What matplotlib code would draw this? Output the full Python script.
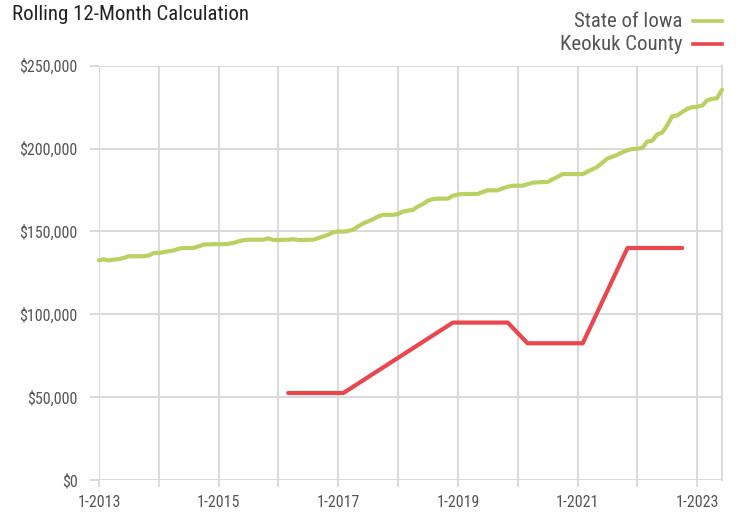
"""
Rolling 12-month median sale price: State of Iowa vs Keokuk County.
Saves out.png
"""

import numpy as np
import pandas as pd
import matplotlib
matplotlib.use("Agg")
import matplotlib.pyplot as plt
import matplotlib.dates as mdates
from matplotlib import font_manager
from matplotlib.lines import Line2D
from matplotlib.ticker import FuncFormatter

# State of Iowa, monthly from 1-2013 to 6-2023 (thousands of dollars)
IOWA_START = "2013-01-01"
IOWA_K = [
    132.5, 133.2, 132.5, 133.0, 133.3, 134.0, 135.0, 135.0, 135.0, 135.0, 135.5, 137.0,
    137.0, 137.5, 138.0, 138.5, 139.5, 140.0, 140.0, 140.0, 141.0, 142.0, 142.2, 142.3,
    142.3, 142.3, 142.5, 143.0, 144.0, 144.7, 145.0, 145.0, 145.0, 145.0, 145.8, 144.8,
    144.8, 145.0, 145.0, 145.3, 144.8, 144.8, 145.0, 145.0, 146.0, 147.0, 148.0, 149.5,
    150.0, 149.8, 150.3, 151.0, 153.0, 154.8, 156.0, 157.4, 159.0, 160.0, 160.0, 160.0,
    160.5, 162.0, 162.5, 163.0, 165.0, 166.5, 168.5, 169.5, 169.8, 169.8, 169.8, 171.5,
    172.3, 172.6, 172.6, 172.6, 172.6, 173.8, 174.8, 174.8, 174.8, 176.0, 177.0, 177.6,
    177.6, 177.6, 178.5, 179.4, 179.6, 179.8, 179.8, 181.5, 183.0, 184.6, 184.6, 184.6,
    184.6, 184.6, 186.0, 187.5, 189.0, 191.5, 194.0, 195.0, 196.3, 197.8, 199.0, 199.8,
    199.9, 200.5, 204.2, 204.7, 208.5, 209.6, 214.0, 219.5, 220.0, 222.0, 224.0, 225.0,
    225.2, 226.0, 229.0, 230.0, 230.3, 235.5,
]

# Keokuk County (thousands of dollars)
KEOKUK_DATES = ["2016-03-01", "2017-02-01", "2018-12-01", "2019-11-01",
                "2020-03-01", "2021-02-01", "2021-11-01", "2022-10-01"]
KEOKUK_K = [52.5, 52.5, 95.0, 95.0, 82.5, 82.5, 140.0, 140.0]

X_END = "2023-06-01"

GREEN = "#b9d063"
RED = "#e9464e"
GRID = "#d9d9d9"
TEXT = "#555555"


def pick_font():
    names = {f.name for f in font_manager.fontManager.ttflist}
    for fam in ["Liberation Sans Narrow", "Roboto Condensed", "Arial Narrow"]:
        if fam in names:
            return fam
    return "Roboto"


plt.rcParams["font.family"] = [pick_font(), "DejaVu Sans"]

iowa_dates = pd.date_range(IOWA_START, periods=len(IOWA_K), freq="MS")
iowa = np.array(IOWA_K) * 1000
keokuk_dates = pd.to_datetime(KEOKUK_DATES)
keokuk = np.array(KEOKUK_K) * 1000

fig = plt.figure(figsize=(7.38, 5.15), dpi=100)
ax = fig.add_axes([99 / 738, 35 / 515, 623 / 738, 414.3 / 515])

ax.plot(iowa_dates, iowa, color=GREEN, lw=3, solid_capstyle="round",
        solid_joinstyle="round", zorder=3, clip_on=False)
ax.plot(keokuk_dates, keokuk, color=RED, lw=3, solid_capstyle="round",
        solid_joinstyle="round", zorder=3)

ax.set_xlim(pd.Timestamp(IOWA_START), pd.Timestamp(X_END))
ax.set_ylim(0, 250000)

ax.xaxis.set_major_locator(mdates.YearLocator(1))
ax.xaxis.set_major_formatter(FuncFormatter(
    lambda v, pos: (f"{mdates.num2date(v).month}-{mdates.num2date(v).year}"
                    if mdates.num2date(v).year % 2 == 1 else "")))
ax.set_yticks(np.arange(0, 250001, 50000))
ax.yaxis.set_major_formatter(FuncFormatter(lambda v, pos: f"${v:,.0f}"))

ax.grid(True, color=GRID, lw=1.4)
ax.set_axisbelow(True)
for side in ["top", "left", "bottom"]:
    ax.spines[side].set_visible(False)
ax.spines["right"].set_color(GRID)
ax.spines["right"].set_linewidth(1.4)

ax.tick_params(axis="y", length=6.5, width=1.4, color=GRID, pad=9,
               labelsize=11.5, labelcolor=TEXT)
ax.tick_params(axis="x", length=5, width=1.4, color=GRID, pad=6,
               labelsize=11.5, labelcolor=TEXT)

fig.text(12 / 738, 1 - 20 / 515, "Rolling 12-Month Calculation",
         fontsize=15, color="#222222", va="baseline", ha="left")

# legend, text first then line key
legend_items = [("State of Iowa", GREEN), ("Keokuk County", RED)]
for i, (label, col) in enumerate(legend_items):
    yb = 1 - (27 + 23.5 * i) / 515
    yl = 1 - (21 + 22.6 * i) / 515
    fig.text(683 / 738, yb, label, fontsize=15, color=TEXT,
             ha="right", va="baseline")
    fig.add_artist(Line2D([693 / 738, 722 / 738], [yl, yl], color=col, lw=2.6,
                          transform=fig.transFigure))

fig.savefig("out.png", dpi=100)
plt.close(fig)
